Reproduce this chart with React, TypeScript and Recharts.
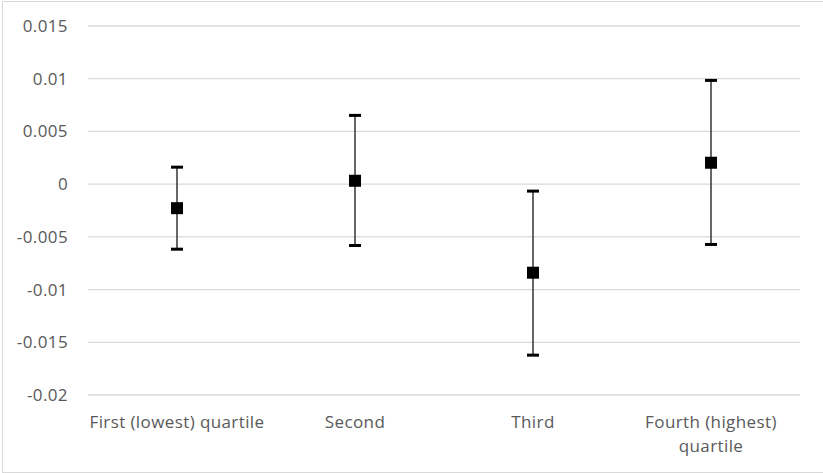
import React from 'react';
import { ComposedChart, Line, XAxis, YAxis, CartesianGrid, ErrorBar } from 'recharts';

const categories = ['First (lowest) quartile', 'Second', 'Third', 'Fourth (highest) quartile'];
const means = [-0.00228, 0.00032, -0.0084, 0.00203];
const lowers = [-0.00617, -0.00582, -0.01622, -0.00572];
const uppers = [0.00161, 0.00652, -0.00066, 0.00984];
const yTicks = [-0.02, -0.015, -0.01, -0.005, 0, 0.005, 0.01, 0.015];

const FONT = '"Open Sans", "Noto Sans", sans-serif';
const TEXT_COLOR = '#595959';

// rows for the chart, error given as [below, above]
const data = categories.map((name, i) => ({
  name,
  mean: means[i],
  lower: lowers[i],
  upper: uppers[i],
  err: [means[i] - lowers[i], uppers[i] - means[i]],
}));

// wrap long category names greedily, Excel style
function wrapLabel(label: string, maxChars: number) {
  const words = label.split(' ');
  const lines: string[] = [];
  let cur = '';
  words.forEach((w) => {
    const next = cur ? cur + ' ' + w : w;
    if (next.length > maxChars && cur) {
      lines.push(cur);
      cur = w;
    } else {
      cur = next;
    }
  });
  if (cur) lines.push(cur);
  return lines;
}

const CategoryTick = ({ x, y, payload }: any) => {
  const lines = wrapLabel(String(payload.value), 23);
  return (
    <text
      x={x}
      y={y}
      textAnchor="middle"
      fill={TEXT_COLOR}
      fontFamily={FONT}
      fontSize={17}
      letterSpacing={0.4}
    >
      {lines.map((line, i) => (
        <tspan key={i} x={x} dy={i === 0 ? 33 : 24}>
          {line}
        </tspan>
      ))}
    </text>
  );
};

const SquareDot = ({ cx, cy }: any) => {
  if (cx == null || cy == null) return null;
  return <rect x={cx - 6} y={cy - 6} width={12} height={12} fill="#000" />;
};

const CapDot = ({ cx, cy }: any) => {
  if (cx == null || cy == null) return null;
  return <rect x={cx - 6} y={cy - 1.5} width={12} height={3} fill="#000" />;
};

export default function App() {
  return (
    <div style={{ position: 'absolute', left: 0, top: 0, width: 823, height: 473, background: '#fff' }}>
      <div
        style={{
          position: 'absolute',
          left: 2,
          top: 1,
          width: 830,
          height: 470,
          border: '1px solid #d9d9d9',
        }}
      />
      <ComposedChart
        width={823}
        height={473}
        data={data}
        margin={{ top: 26, right: 23, bottom: 0, left: 0 }}
        style={{ position: 'absolute', left: 0, top: 0 }}
      >
        <CartesianGrid vertical={false} stroke="#d9d9d9" strokeWidth={1.3} />
        <XAxis
          dataKey="name"
          scale="band"
          axisLine={false}
          tickLine={false}
          tickSize={0}
          tickMargin={0}
          height={78}
          interval={0}
          tick={<CategoryTick />}
        />
        <YAxis
          type="number"
          domain={[-0.02, 0.015]}
          ticks={yTicks}
          width={88}
          axisLine={false}
          tickLine={false}
          tickSize={0}
          tickMargin={20}
          tick={{ fill: TEXT_COLOR, fontSize: 17, fontFamily: FONT, letterSpacing: 0.4 }}
          tickFormatter={(v: number) => String(v)}
        />
        <Line
          dataKey="upper"
          stroke="none"
          dot={<CapDot />}
          activeDot={false}
          isAnimationActive={false}
        />
        <Line
          dataKey="lower"
          stroke="none"
          dot={<CapDot />}
          activeDot={false}
          isAnimationActive={false}
        />
        <Line
          dataKey="mean"
          stroke="none"
          dot={<SquareDot />}
          activeDot={false}
          isAnimationActive={false}
        >
          <ErrorBar dataKey="err" width={0} stroke="#404040" strokeWidth={1.6} direction="y" />
        </Line>
      </ComposedChart>
    </div>
  );
}
